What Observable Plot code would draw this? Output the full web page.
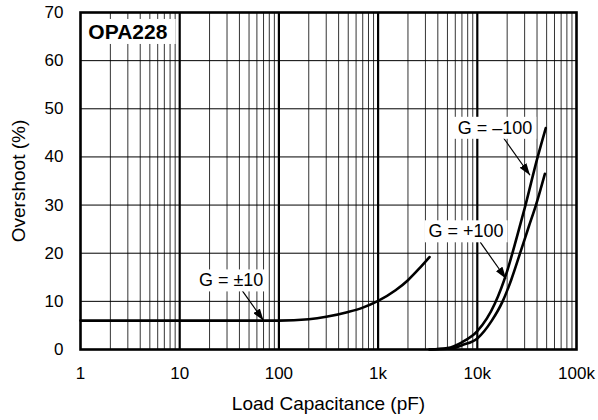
<!DOCTYPE html>
<html>
<head>
<meta charset="utf-8">
<script src="https://cdn.jsdelivr.net/npm/d3@7"></script>
<script src="https://cdn.jsdelivr.net/npm/@observablehq/plot@0.6"></script>
<style>
  html, body { margin: 0; padding: 0; background: #fff; }
  #chart svg { display: block; }
</style>
</head>
<body>
<div id="chart"></div>
<script>
// ---- data ----
const xTicks = [1, 10, 100, 1000, 10000, 100000];
const xTickLabels = ["1", "10", "100", "1k", "10k", "100k"];
const yTicks = [0, 10, 20, 30, 40, 50, 60, 70];

// G = ±10 curve: [capacitance pF, overshoot %]
const g10 = [[1, 6.0], [10, 6.0], [50, 6.0], [100, 6.0], [200, 6.3], [300, 6.8], [500, 7.8], [700, 8.7], [1000, 10.1], [1500, 12.3], [2000, 14.4], [2650, 17.0], [3300, 19.2]];
// G = –100 curve
const gm100 = [[3300, 0], [5000, 0.3], [7000, 1.5], [10000, 3.8], [15000, 9.5], [20000, 16.3], [25000, 23.3], [30000, 29.3], [40000, 39.5], [49000, 46.0]];
// G = +100 curve
const gp100 = [[3300, 0], [5500, 0.2], [7000, 0.9], [10000, 2.3], [14000, 6.0], [18000, 10.0], [22000, 14.5], [27000, 20.0], [33000, 25.5], [39000, 30.0], [48000, 36.5]];

// annotation labels
const labelText = ["G = \u2013100", "G = +100", "G = \u00b110"];
const labelX = [15100, 7700, 33];
const labelY = [46, 24.5, 14.3];
// arrows: from (x1,y1) to (x2,y2)
const arrowX1 = [17600, 10700, 42.5];
const arrowY1 = [44.5, 22.3, 12.3];
const arrowX2 = [34000, 19500, 70];
const arrowY2 = [36.2, 14.7, 6.0];

const deviceName = "OPA228";
const deviceX = 1.2;
const deviceY = 65.9;

const xTitle = "Load Capacitance (pF)";
const yTitle = "Overshoot (%)";

// ---- derived tables ----
const toRows = (arr) => arr.map(([x, y]) => ({x, y}));
const minor = [];
for (let e = 0; e < 5; e++) for (let m = 2; m <= 9; m++) minor.push(m * Math.pow(10, e));
const majors = xTicks.slice(1, -1);
const hGrid = yTicks.slice(1, -1);
const labels = labelText.map((t, i) => ({t, x: labelX[i], y: labelY[i]}));
const arrows = arrowX1.map((_, i) => ({x1: arrowX1[i], y1: arrowY1[i], x2: arrowX2[i], y2: arrowY2[i]}));
const fmt = new Map(xTicks.map((v, i) => [v, xTickLabels[i]]));

const font = "Liberation Sans, Arial, Helvetica, sans-serif";

const chart = Plot.plot({
  width: 598,
  height: 420,
  marginLeft: 80,
  marginRight: 22,
  marginTop: 12,
  marginBottom: 71,
  style: {fontFamily: font, fontSize: "17px", color: "black", background: "white"},
  x: {type: "log", domain: [1, 100000], ticks: xTicks, tickFormat: d => fmt.get(d), tickSize: 0, tickPadding: 17, label: null},
  y: {domain: [0, 70], ticks: yTicks, tickSize: 0, tickPadding: 17, label: null},
  marks: [
    Plot.ruleX(minor, {stroke: "black", strokeWidth: 1, strokeOpacity: 0.8}),
    Plot.ruleX(majors, {stroke: "black", strokeWidth: 2.2}),
    Plot.ruleY(hGrid, {stroke: "black", strokeWidth: 1}),
    Plot.line(toRows(g10), {x: "x", y: "y", stroke: "black", strokeWidth: 2.6, curve: "monotone-x"}),
    Plot.line(toRows(gm100), {x: "x", y: "y", stroke: "black", strokeWidth: 2.6, curve: "monotone-x"}),
    Plot.line(toRows(gp100), {x: "x", y: "y", stroke: "black", strokeWidth: 2.6, curve: "monotone-x"}),
    Plot.link(arrows, {x1: "x1", y1: "y1", x2: "x2", y2: "y2", stroke: "black", strokeWidth: 1.2}),
    Plot.text(labels, {x: "x", y: "y", text: "t", fill: "black", fontSize: 18}),
    Plot.text([deviceName], {x: deviceX, y: deviceY, text: d => d, textAnchor: "start", fill: "black", fontSize: 21, fontWeight: "bold"}),
    Plot.frame({stroke: "black", strokeWidth: 2.6}),
    Plot.text([xTitle], {frameAnchor: "bottom", dy: 60, text: d => d, textAnchor: "middle", fill: "black", fontSize: 19}),
    Plot.text([yTitle], {frameAnchor: "left", dx: -62, rotate: -90, text: d => d, textAnchor: "middle", fill: "black", fontSize: 19})
  ]
});

document.getElementById("chart").appendChild(chart);

// white boxes behind annotation texts
const svg = d3.select(chart.tagName.toLowerCase() === "svg" ? chart : chart.querySelector("svg"));
svg.selectAll("text").each(function () {
  const txt = this.textContent;
  if (!/^G =|OPA228/.test(txt)) return;
  const b = this.getBBox();
  const g = this.parentNode;
  const ctm = this.getAttribute("transform");
  const r = document.createElementNS("http://www.w3.org/2000/svg", "rect");
  const padX = txt === deviceName ? 8 : 4;
  r.setAttribute("x", b.x - padX);
  r.setAttribute("y", b.y - 1);
  r.setAttribute("width", b.width + 2 * padX);
  r.setAttribute("height", b.height + 2);
  r.setAttribute("fill", "white");
  if (ctm) r.setAttribute("transform", ctm);
  g.insertBefore(r, this);
});

// filled arrowheads on the annotation links
const defs = svg.insert("defs", ":first-child");
defs.append("marker")
  .attr("id", "ahead")
  .attr("viewBox", "0 0 12 8")
  .attr("refX", 12).attr("refY", 4)
  .attr("markerWidth", 12).attr("markerHeight", 8)
  .attr("markerUnits", "userSpaceOnUse")
  .attr("orient", "auto")
  .append("path").attr("d", "M0,0L12,4L0,8Z").attr("fill", "black");
svg.selectAll("g[aria-label='link'] path, g[aria-label='link'] line").attr("marker-end", "url(#ahead)");
</script>
</body>
</html>
